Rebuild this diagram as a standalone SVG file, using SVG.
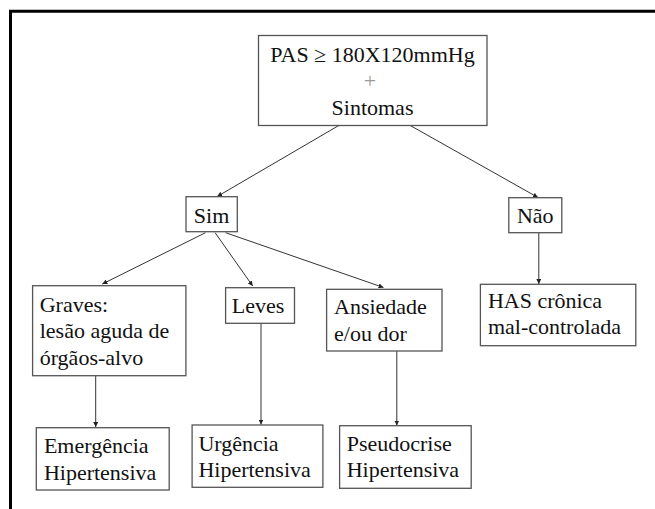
<svg xmlns="http://www.w3.org/2000/svg" width="655" height="509" viewBox="0 0 655 509">
<defs>
<marker id="ah" viewBox="0 0 10 10" refX="10" refY="5" markerWidth="5" markerHeight="5" orient="auto" markerUnits="userSpaceOnUse">
<path d="M0,0 L10,5 L0,10 z" fill="#222"/>
</marker>
<style>
.box{fill:#fff;stroke:#555;stroke-width:1.3}
.t{font-family:"Liberation Serif","Times New Roman",serif;font-size:22px;fill:#111}
.c{stroke:#333;stroke-width:1;fill:none;marker-end:url(#ah)}
</style>
</defs>
<rect x="0" y="0" width="655" height="509" fill="#fff"/>
<path d="M10.5,515 L10.5,11.3 L660,11.3" fill="none" stroke="#000" stroke-width="3"/>
<g id="connectors">
<line class="c" x1="339.6" y1="125" x2="217.2" y2="196.5"/>
<line class="c" x1="409.4" y1="125" x2="538" y2="197.5"/>
<line class="c" x1="205.5" y1="232.7" x2="102.3" y2="284"/>
<line class="c" x1="215.1" y1="232.7" x2="252.7" y2="286"/>
<line class="c" x1="225.6" y1="232.7" x2="383.5" y2="287.5"/>
<line class="c" x1="538.8" y1="232.7" x2="538.8" y2="284"/>
<line class="c" x1="95.7" y1="375.7" x2="95.7" y2="427"/>
<line class="c" x1="261" y1="323.3" x2="261" y2="424.5"/>
<line class="c" x1="396.8" y1="351" x2="396.8" y2="425.5"/>
</g>
<g id="top">
<rect class="box" x="258.5" y="35.5" width="228.5" height="90"/>
<text class="t" x="372.5" y="61.5" text-anchor="middle">PAS ≥ 180X120mmHg</text>
<text class="t" x="370" y="88" text-anchor="middle" style="fill:#999">+</text>
<text class="t" x="372.5" y="115" text-anchor="middle">Sintomas</text>
</g>
<g id="sim">
<rect class="box" x="186" y="196.7" width="51.3" height="35"/>
<text class="t" x="211.6" y="222.7" text-anchor="middle">Sim</text>
</g>
<g id="nao">
<rect class="box" x="508.8" y="197.7" width="53" height="35"/>
<text class="t" x="535.3" y="222.7" text-anchor="middle">Não</text>
</g>
<g id="graves">
<rect class="box" x="32.6" y="285.7" width="153.3" height="90"/>
<text class="t" x="39.7" y="311.7">Graves:</text>
<text class="t" x="39.7" y="337.7">lesão aguda de</text>
<text class="t" x="39.7" y="365">órgãos-alvo</text>
</g>
<g id="leves">
<rect class="box" x="225.6" y="287.7" width="68.9" height="35.6"/>
<text class="t" x="231.8" y="313.3">Leves</text>
</g>
<g id="ansiedade">
<rect class="box" x="326.6" y="289.3" width="115.4" height="61.7"/>
<text class="t" x="334" y="314.3">Ansiedade</text>
<text class="t" x="334" y="341">e/ou dor</text>
</g>
<g id="has">
<rect class="box" x="480.4" y="284.3" width="155.4" height="61.4"/>
<text class="t" x="487.9" y="308.3">HAS crônica</text>
<text class="t" x="487.9" y="334.3">mal-controlada</text>
</g>
<g id="emergencia">
<rect class="box" x="36.3" y="427.7" width="132.9" height="62.3"/>
<text class="t" x="43.9" y="453.3">Emergência</text>
<text class="t" x="43.9" y="480">Hipertensiva</text>
</g>
<g id="urgencia">
<rect class="box" x="192.1" y="425" width="130.8" height="62.3"/>
<text class="t" x="198.4" y="450.7">Urgência</text>
<text class="t" x="198.4" y="477.3">Hipertensiva</text>
</g>
<g id="pseudocrise">
<rect class="box" x="339.6" y="425.7" width="131.6" height="62.6"/>
<text class="t" x="346.7" y="450.7">Pseudocrise</text>
<text class="t" x="346.7" y="477.3">Hipertensiva</text>
</g>
</svg>
